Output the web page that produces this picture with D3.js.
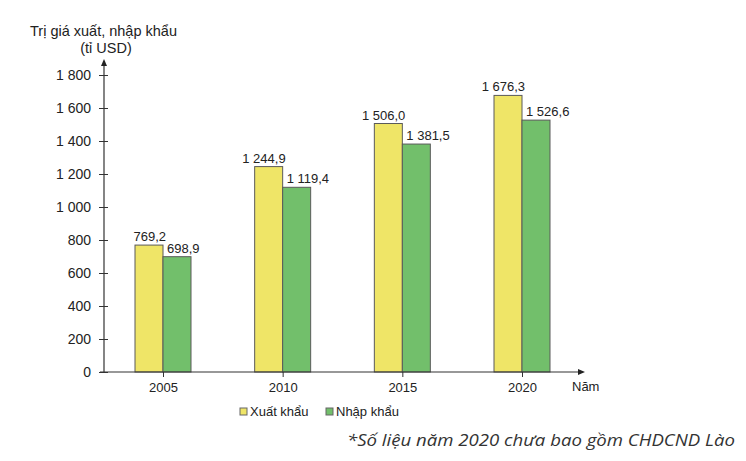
<!DOCTYPE html>
<html>
<head>
<meta charset="utf-8">
<script src="https://cdn.jsdelivr.net/npm/d3@7"></script>
<style>
  body { margin: 0; background: #fff; }
  svg text { font-family: "Liberation Sans", Arial, sans-serif; fill: #222; }
</style>
</head>
<body>
<div id="chart"></div>
<script>
var years = ['2005', '2010', '2015', '2020'];
var xuatKhau = [769.2, 1244.9, 1506.0, 1676.3];
var nhapKhau = [698.9, 1119.4, 1381.5, 1526.6];
var yTicks = [0, 200, 400, 600, 800, 1000, 1200, 1400, 1600, 1800];
var seriesNames = ['Xuất khẩu', 'Nhập khẩu'];

var W = 746, H = 461;
var colors = ['#efe567', '#72bf6b'];
var barW = 28;

var svg = d3.select('#chart').append('svg')
  .attr('width', W).attr('height', H);

var xScale = d3.scalePoint().domain(years).range([163, 522]);
var yScale = d3.scaleLinear().domain([0, 1800]).range([372, 75]);

// number format: "1 244,9"
function fmt(v, dec) {
  var s = v.toFixed(dec).split('.');
  var intPart = s[0].replace(/\B(?=(\d{3})+(?!\d))/g, ' ');
  return s.length > 1 ? intPart + ',' + s[1] : intPart;
}

// bars
var data = years.map(function(y, i) { return {year: y, vals: [xuatKhau[i], nhapKhau[i]]}; });

[0, 1].forEach(function(k) {
  svg.selectAll('rect.s' + k)
    .data(data)
    .enter().append('rect')
    .attr('class', 's' + k)
    .attr('x', function(d) { return xScale(d.year) + (k === 0 ? -barW : 0); })
    .attr('y', function(d) { return yScale(d.vals[k]); })
    .attr('width', barW)
    .attr('height', function(d) { return yScale(0) - yScale(d.vals[k]); })
    .style('fill', colors[k])
    .style('stroke', '#5a5a5a')
    .style('stroke-width', '1px');

  svg.selectAll('text.v' + k)
    .data(data)
    .enter().append('text')
    .attr('class', 'v' + k)
    .attr('x', function(d) { return xScale(d.year) + (k === 0 ? 3 : 4); })
    .attr('y', function(d) { return yScale(d.vals[k]) - 4; })
    .attr('text-anchor', k === 0 ? 'end' : 'start')
    .style('font-size', '13px')
    .text(function(d) { return fmt(d.vals[k], 1); });
});

// Y axis
var yAxis = svg.append('g')
  .attr('class', 'yaxis')
  .attr('transform', 'translate(104,0)')
  .call(d3.axisLeft(yScale).tickValues(yTicks).tickSize(4).tickPadding(9)
    .tickFormat(function(d) { return fmt(d, 0); }));
yAxis.select('path.domain').remove();
yAxis.selectAll('.tick line').attr('x2', 4).attr('x1', -5).style('stroke', '#333');
yAxis.selectAll('.tick text').style('font-size', '14px').style('fill', '#222')
  .style('font-family', '"Liberation Sans", Arial, sans-serif');

svg.append('line')
  .attr('x1', 104).attr('x2', 104)
  .attr('y1', yScale(0)).attr('y2', 64)
  .style('stroke', '#333').style('stroke-width', '1.2px');
svg.append('path')
  .attr('d', 'M104,59 L101,66 L107,66 Z')
  .style('fill', '#222');

// X axis
var xAxis = svg.append('g')
  .attr('class', 'xaxis')
  .attr('transform', 'translate(0,' + yScale(0) + ')')
  .call(d3.axisBottom(xScale).tickSize(5).tickPadding(6));
xAxis.select('path.domain').remove();
xAxis.selectAll('.tick line').style('stroke', '#333');
xAxis.selectAll('.tick text').style('font-size', '13px').style('fill', '#222')
  .style('font-family', '"Liberation Sans", Arial, sans-serif');

svg.append('line')
  .attr('x1', 100).attr('x2', 580)
  .attr('y1', yScale(0)).attr('y2', yScale(0))
  .style('stroke', '#333').style('stroke-width', '1.2px');
svg.append('path')
  .attr('d', 'M585,' + yScale(0) + ' L578,' + (yScale(0) - 3) + ' L578,' + (yScale(0) + 3) + ' Z')
  .style('fill', '#222');

svg.append('text')
  .attr('x', 572).attr('y', 391)
  .style('font-size', '13px')
  .text('Năm');

// axis title
svg.append('text')
  .attr('x', 30).attr('y', 36)
  .style('font-size', '14.5px')
  .text('Trị giá xuất, nhập khẩu');
svg.append('text')
  .attr('x', 106).attr('y', 53)
  .attr('text-anchor', 'middle')
  .style('font-size', '14.5px')
  .text('(tỉ USD)');

// legend
var legendX = [240, 326];
seriesNames.forEach(function(name, i) {
  svg.append('rect')
    .attr('x', legendX[i]).attr('y', 408)
    .attr('width', 7).attr('height', 7)
    .style('fill', colors[i])
    .style('stroke', '#666').style('stroke-width', '1px');
  svg.append('text')
    .attr('x', legendX[i] + 10).attr('y', 416)
    .style('font-size', '13px')
    .text(name);
});

// footnote
svg.append('text')
  .attr('x', 347).attr('y', 446)
  .attr('textLength', 388)
  .attr('lengthAdjust', 'spacingAndGlyphs')
  .style('font-family', '"Open Sans", "Noto Sans", sans-serif')
  .style('font-style', 'italic')
  .style('font-size', '17px')
  .style('fill', '#333')
  .text('*Số liệu năm 2020 chưa bao gồm CHDCND Lào');
</script>
</body>
</html>
